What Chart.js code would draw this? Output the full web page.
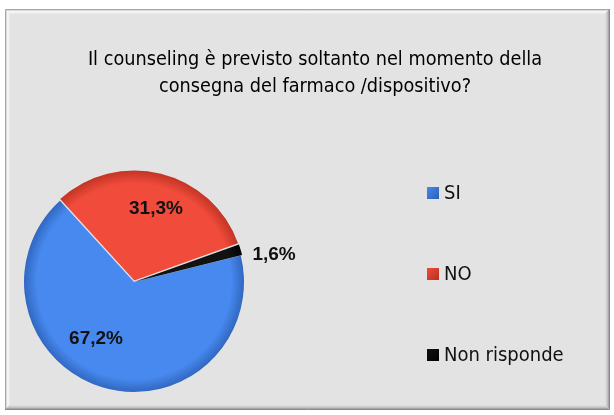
<!DOCTYPE html>
<html>
<head>
<meta charset="utf-8">
<script src="https://cdn.jsdelivr.net/npm/chart.js@4.4.1/dist/chart.umd.min.js"></script>
<style>
  html, body { margin: 0; padding: 0; background: #fff; }
  #wrap { width: 614px; height: 415px; position: relative; }
</style>
</head>
<body>
<div id="wrap"><canvas id="myChart" width="614" height="415"></canvas></div>
<script>
// survey answers
const labels = ['SI', 'NO', 'Non risponde'];
const values = [67.2, 31.3, 1.6];
const colors = ['#4789ef', '#f04b3b', '#121212'];
const shades = ['#2c5fb5', '#b8301f', '#000000'];
const titleLines = ['Il counseling è previsto soltanto nel momento della', 'consegna del farmaco /dispositivo?'];

const narrow = "'Liberation Sans Narrow', 'Arial Narrow', 'DejaVu Sans Condensed', sans-serif";

// where the % labels sit: fraction of radius and angle shift (deg)
const labelPos = [
	{ r : 0.62, da : 17 },
	{ r : 0.64, da : 3 },
	{ r : 1.27, da : 6 }
];

function fmt(v) {
	return v.toFixed(1).replace('.', ',') + '%';
}

// grey panel with bevelled edge, title and legend
const panel = {
	id : 'panel',
	beforeDraw : function(chart) {
		var c = chart.ctx;
		c.save();
		c.fillStyle = '#ffffff';
		c.fillRect(0, 0, chart.width, chart.height);

		var x0 = 5, y0 = 9, x1 = 610, y1 = 410;
		c.fillStyle = '#e3e3e3';
		c.fillRect(x0, y0, x1 - x0, y1 - y0);

		// bevel: light on top/left, dark on bottom/right
		var lt = ['#a8a8a8', '#d8d8d8', '#f6f6f6', '#f2f2f2', '#ebebeb'];
		var dk = ['#8a8a8a', '#a6a6a6', '#c0c0c0', '#d2d2d2', '#dcdcdc'];
		for (var i = 0; i < lt.length; i++) {
			c.strokeStyle = lt[i];
			c.beginPath();
			c.moveTo(x0 + i + 0.5, y1 - i);
			c.lineTo(x0 + i + 0.5, y0 + i + 0.5);
			c.lineTo(x1 - i, y0 + i + 0.5);
			c.stroke();
			c.strokeStyle = dk[i];
			c.beginPath();
			c.moveTo(x1 - i - 0.5, y0 + i);
			c.lineTo(x1 - i - 0.5, y1 - i - 0.5);
			c.lineTo(x0 + i, y1 - i - 0.5);
			c.stroke();
		}

		// title
		c.fillStyle = '#000';
		c.textAlign = 'center';
		c.textBaseline = 'alphabetic';
		c.font = '19.7px ' + narrow;
		c.fillText(titleLines[0], 315, 65);
		c.fillText(titleLines[1], 315, 92);

		// legend
		var ys = [193, 274, 355];
		c.textAlign = 'left';
		c.textBaseline = 'middle';
		c.font = '20px ' + narrow;
		for (var k = 0; k < labels.length; k++) {
			var g = c.createLinearGradient(427, ys[k] - 6, 439, ys[k] + 6);
			g.addColorStop(0, colors[k]);
			g.addColorStop(1, shades[k]);
			c.fillStyle = g;
			c.fillRect(427, ys[k] - 6, 12, 12);
			c.fillStyle = '#111';
			c.fillText(labels[k], 444, ys[k] + 1);
		}
		c.restore();
	},
	afterDatasetsDraw : function(chart) {
		var c = chart.ctx;
		var arcs = chart.getDatasetMeta(0).data;
		c.save();
		c.fillStyle = '#111';
		c.font = 'bold 19px "Liberation Sans", Arial, sans-serif';
		c.textAlign = 'center';
		c.textBaseline = 'middle';
		for (var i = 0; i < arcs.length; i++) {
			var a = arcs[i].getProps(['x', 'y', 'startAngle', 'endAngle', 'outerRadius'], true);
			var half = (a.startAngle + a.endAngle) / 2;
			var mid = half + labelPos[i].da * Math.PI / 180;
			var off = arcs[i].options.offset || 0;
			var cx = a.x + Math.cos(half) * off;
			var cy = a.y + Math.sin(half) * off;
			var r = a.outerRadius * labelPos[i].r;
			c.fillText(fmt(values[i]), cx + Math.cos(mid) * r, cy + Math.sin(mid) * r);
		}
		c.restore();
	}
};

function sliceFill(context) {
	var i = context.dataIndex;
	var chart = context.chart;
	var area = chart.chartArea;
	if (!area) return colors[i];
	var cx = (area.left + area.right) / 2;
	var cy = (area.top + area.bottom) / 2;
	var R = (area.right - area.left) / 2;
	var g = chart.ctx.createRadialGradient(cx, cy, 0, cx, cy, R);
	g.addColorStop(0, colors[i]);
	g.addColorStop(0.86, colors[i]);
	g.addColorStop(1, shades[i]);
	return g;
}

var ctx = document.getElementById('myChart').getContext('2d');
var chart = new Chart(ctx, {
	type : 'pie',
	data : {
		labels : labels,
		datasets : [ {
			data : values,
			backgroundColor : sliceFill,
			borderWidth : 0,
			offset : [ 0, 6, 3 ]
		} ]
	},
	options : {
		responsive : false,
		animation : false,
		rotation : 76,
		layout : {
			padding : { left : 21, top : 169, right : 367, bottom : 20 }
		},
		plugins : {
			legend : { display : false },
			tooltip : { enabled : false },
			title : { display : false }
		}
	},
	plugins : [ panel ]
});
</script>
</body>
</html>
